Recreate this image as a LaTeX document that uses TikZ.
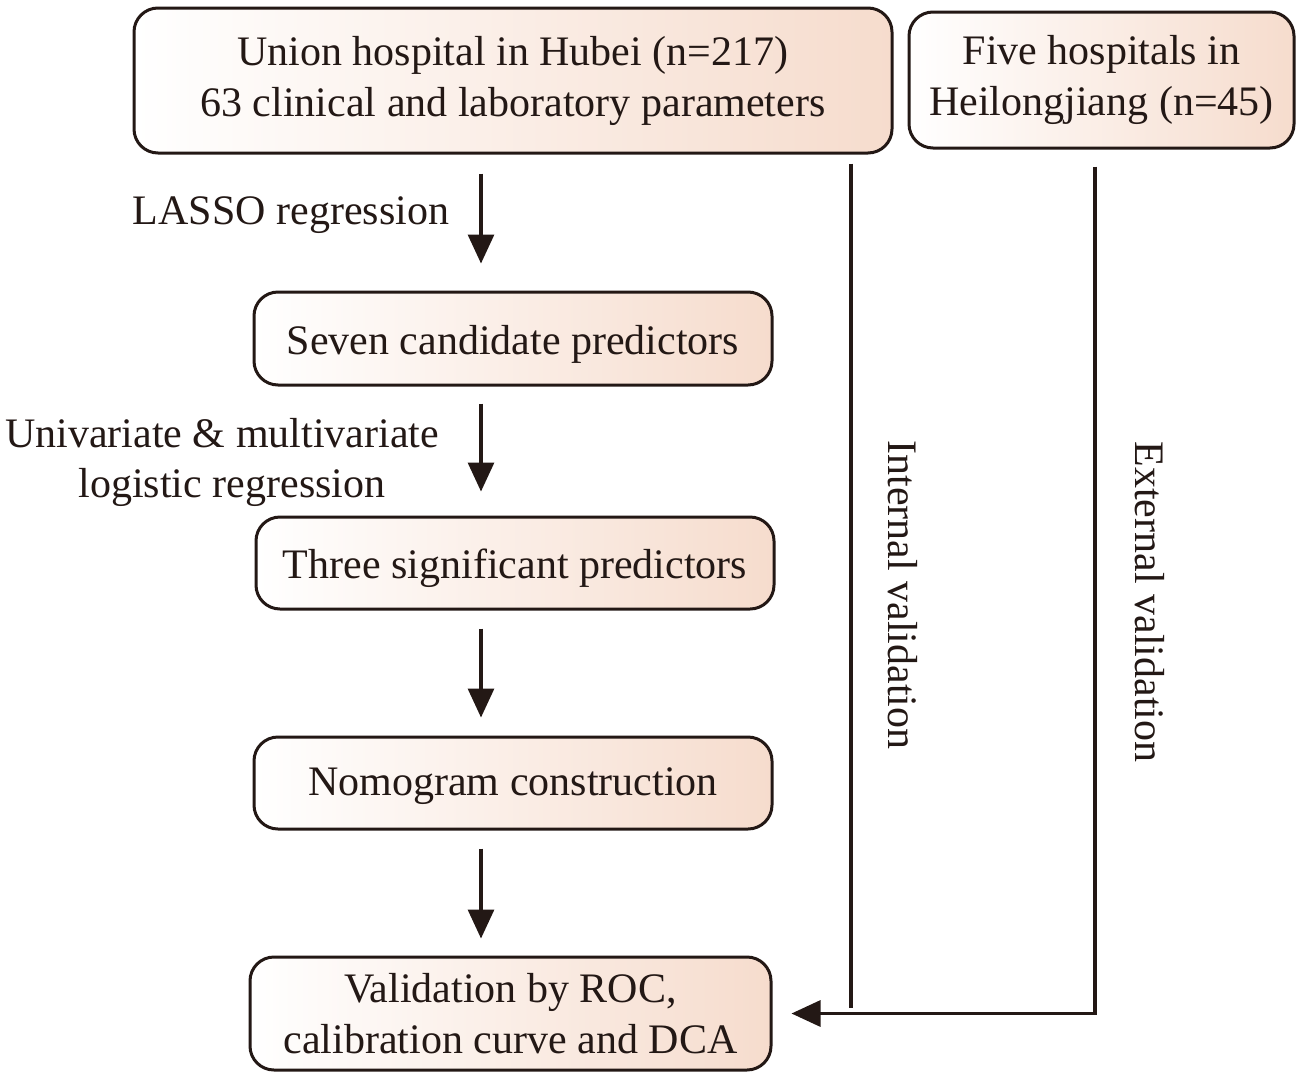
\documentclass[tikz,border=0pt]{standalone}
\usepackage{fontspec}
\setmainfont{Liberation Serif}
\usetikzlibrary{arrows.meta}
\definecolor{ink}{HTML}{231815}
\definecolor{peach}{HTML}{F6DCCD}
\newcommand\lowertext[2]{\raisebox{-#1}[30pt][9pt]{#2}}
\begin{document}
\begin{tikzpicture}[x=1pt,y=-1pt,
  box/.style={draw=ink, line width=3pt, rounded corners=24pt, left color=white, right color=peach,
    shading angle=90, align=center, inner sep=0pt, text=ink,
    font=\fontsize{42}{51}\selectfont},
  lbl/.style={text=ink, align=center, inner sep=0pt, font=\fontsize{42}{50}\selectfont},
  arr/.style={draw=ink, line width=3.2pt, -{Triangle[length=29pt,width=26pt]}},
  ln/.style={draw=ink, line width=3.2pt}]
\useasboundingbox (0,0) rectangle (1303,1079);
\node[box, minimum width=758pt, minimum height=145pt] (u) at (513,80.5)
  {Union hospital in Hubei (n=217)\\63 clinical and laboratory parameters};
\node[box, minimum width=385pt, minimum height=136pt] (f) at (1101.5,80)
  {Five hospitals in\\Heilongjiang (n=45)};
\node[box, minimum width=518pt, minimum height=93pt] (s) at (513,338.5)
  {\lowertext{5pt}{Seven candidate predictors}};
\node[box, minimum width=518pt, minimum height=92pt] (t) at (515,563)
  {\lowertext{5pt}{Three significant predictors}};
\node[box, minimum width=518pt, minimum height=92pt] (n) at (513,783)
  {\lowertext{2pt}{Nomogram construction}};
\node[box, minimum width=521pt, minimum height=113pt] (v) at (510.5,1013.5)
  {Validation by ROC,\\calibration curve and DCA};
\coordinate (ax) at (481,0);
\coordinate (ix) at (851,0);
\coordinate (ex) at (1095,0);
\coordinate (iend) at (851,1008);
\draw[arr, shorten <=19pt, shorten >=27pt] (u.south -| ax) -- (s.north -| ax);
\draw[arr, shorten <=17pt, shorten >=24pt] (s.south -| ax) -- (t.north -| ax);
\draw[arr, shorten <=18pt, shorten >=18pt] (t.south -| ax) -- (n.north -| ax);
\draw[arr, shorten <=18pt, shorten >=17pt] (n.south -| ax) -- (v.north -| ax);
\draw[ln, shorten <=9pt] (u.south -| ix) -- (iend);
\draw[arr, shorten <=17pt, shorten >=19pt, rounded corners=0pt] (f.south -| ex) |- (v.east);
\node[lbl] (l1) at (291,215) {LASSO regression};
\node[lbl] (l2) at (222,462) {Univariate \& multivariate\\\hspace*{20pt}logistic regression};
\node[lbl, rotate=-90] (l3) at (903,595) {Internal validation};
\node[lbl, rotate=-90] (l4) at (1150,602) {External validation};
\end{tikzpicture}
\end{document}
